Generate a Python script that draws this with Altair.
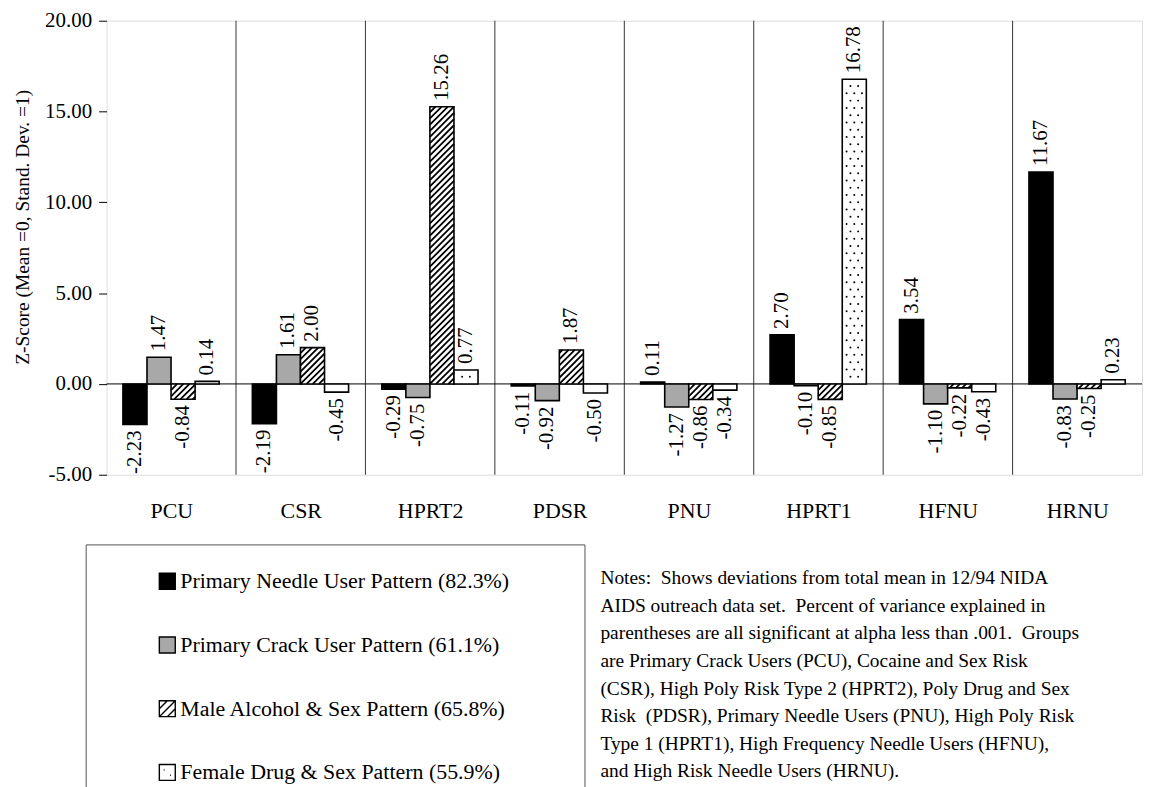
import altair as alt
import pandas as pd

# ---------------- data ----------------
groups = ["PCU", "CSR", "HPRT2", "PDSR", "PNU", "HPRT1", "HFNU", "HRNU"]
series = [
    "Primary Needle User Pattern (82.3%)",
    "Primary Crack User Pattern (61.1%)",
    "Male Alcohol & Sex Pattern (65.8%)",
    "Female Drug & Sex Pattern (55.9%)",
]
needle = [-2.23, -2.19, -0.29, -0.11, 0.11, 2.70, 3.54, 11.67]
crack = [1.47, 1.61, -0.75, -0.92, -1.27, -0.10, -1.10, -0.83]
male = [-0.84, 2.00, 15.26, 1.87, -0.86, -0.85, -0.22, -0.25]
female = [0.14, -0.45, 0.77, -0.50, -0.34, 16.78, -0.43, 0.23]
y_ticks = [-5, 0, 5, 10, 15, 20]
y_title = "Z-Score (Mean =0, Stand. Dev. =1)"
notes_lines = [
    "Notes:\u00a0 Shows deviations from total mean in 12/94 NIDA",
    "AIDS outreach data set.\u00a0 Percent of variance explained in",
    "parentheses are all significant at alpha less than .001.\u00a0 Groups",
    "are Primary Crack Users (PCU), Cocaine and Sex Risk",
    "(CSR), High Poly Risk Type 2 (HPRT2), Poly Drug and Sex",
    "Risk\u00a0 (PDSR), Primary Needle Users (PNU), High Poly Risk",
    "Type 1 (HPRT1), High Frequency Needle Users (HFNU),",
    "and High Risk Needle Users (HRNU).",
]

# ---------------- layout / style ----------------
FONT = "Liberation Serif"
GW = 5.38      # group width in bar widths
OFF = 0.68     # offset of first bar inside the group
HD = 1.324     # hatch rise across one bar width (y units)
HS = 0.34      # hatch spacing (y units)
DS = 0.40      # dot row spacing (y units)
fills = ["#000000", "#a8a8a8", "#ffffff", "#ffffff"]
strokes = ["#000000"] * 4
male_path = "M-1,-1H1V1H-1ZM-1,1L1,-1M-1,0L0,-1M0,1L1,0"
female_path = "M-1,-1H1V1H-1ZM-0.45,-0.3L-0.35,-0.3M0.35,0.35L0.45,0.35"
shapes = ["square", "square", male_path, female_path]
MINUS_FIX = "replace({}, '\u2212', '-')"

rows = []
for gi, g in enumerate(groups):
    for si, (s, vals) in enumerate(zip(series, [needle, crack, male, female])):
        x0 = gi * GW + OFF + si
        rows.append(dict(group=g, series=s, value=vals[gi], x0=x0, x1=x0 + 1, xc=x0 + 0.5))
df = pd.DataFrame(rows)
df["lo"] = df["value"].clip(upper=0)
df["hi"] = df["value"].clip(lower=0)

bounds = pd.DataFrame({"xb": [k * GW for k in range(1, len(groups))]})
centers = [gi * GW + GW / 2 for gi in range(len(groups))]
label_expr = "[" + ",".join(f"'{g}'" for g in groups) + f"][round((datum.value - {GW/2})/{GW})]"

xscale = alt.Scale(domain=[0, GW * len(groups)], nice=False, zero=False)
yscale = alt.Scale(domain=[-5, 20], nice=False, zero=False)

x_axis = alt.Axis(values=centers, labelExpr=label_expr, title=None, grid=False, ticks=False,
                  domain=False, labelFont=FONT, labelFontSize=22, labelColor="black",
                  labelPadding=26)
y_axis = alt.Axis(values=y_ticks, format=".2f", labelExpr=MINUS_FIX.format("datum.label"),
                  title=y_title, grid=False, domain=False,
                  ticks=True, tickSize=8, tickColor="black", tickWidth=1,
                  labelFont=FONT, labelFontSize=21, labelColor="black", labelPadding=7,
                  titleFont=FONT, titleFontSize=19.5, titleFontWeight="normal",
                  titleColor="black", titleX=-84, titleY=207, titleAngle=270,
                  titleAlign="center", titleBaseline="middle")

legend = alt.Legend(
    title=".", titleOrient="right", titleOpacity=0, titleFontSize=10, titlePadding=46,
    orient="none", legendX=-21, legendY=526, padding=26, symbolOffset=45,
    strokeColor="#555555", fillColor="white",
    labelFont=FONT, labelFontSize=22, labelColor="black", labelOffset=2, labelLimit=1000,
    rowPadding=42, symbolSize=256, symbolOpacity=1, symbolStrokeWidth=1.4,
)

fill_scale = alt.Scale(domain=series, range=fills)
base = alt.Chart(df)

separators = alt.Chart(bounds).mark_rule(color="#333333", strokeWidth=1).encode(
    x=alt.X("xb:Q", scale=xscale, axis=x_axis)
)
zero_line = alt.Chart(pd.DataFrame({"z": [0]})).mark_rule(color="black", strokeWidth=1).encode(
    y=alt.Y("z:Q", scale=yscale, axis=y_axis)
)

# invisible points that only carry the legend (fill + outline + custom glyph shape)
legend_carrier = base.mark_point(filled=True, opacity=0).encode(
    x=alt.X("xc:Q", scale=xscale, axis=x_axis),
    y=alt.Y("hi:Q", scale=yscale, axis=y_axis),
    fill=alt.Fill("series:N", scale=fill_scale, legend=legend),
    stroke=alt.Stroke("series:N", scale=alt.Scale(domain=series, range=strokes), legend=legend),
    shape=alt.Shape("series:N", scale=alt.Scale(domain=series, range=shapes), legend=legend),
)

bars = base.mark_bar(stroke="black", strokeWidth=1.6).encode(
    x=alt.X("x0:Q", scale=xscale, axis=x_axis),
    x2="x1:Q",
    y=alt.Y("lo:Q", scale=yscale, axis=y_axis),
    y2="hi:Q",
    fill=alt.Fill("series:N", scale=fill_scale, legend=legend),
)

hatch = (
    base.transform_filter(alt.datum.series == series[2])
    .transform_calculate(ks=f"sequence(ceil((datum.lo - {HD})/{HS}), ceil(datum.hi/{HS}))")
    .transform_flatten(["ks"])
    .transform_calculate(s=f"datum.ks * {HS}")
    .transform_calculate(ya="max(datum.s, datum.lo)")
    .transform_calculate(yb=f"min(datum.s + {HD}, datum.hi)")
    .transform_calculate(xa=f"datum.x0 + (datum.ya - datum.s)/{HD}")
    .transform_calculate(xb=f"datum.x0 + (datum.yb - datum.s)/{HD}")
    .transform_filter("datum.xb > datum.xa + 0.02")
    .mark_rule(stroke="black", strokeWidth=1.8)
    .encode(
        x=alt.X("xa:Q", scale=xscale, axis=x_axis), x2="xb:Q",
        y=alt.Y("ya:Q", scale=yscale, axis=y_axis), y2="yb:Q",
    )
)

dots = (
    base.transform_filter(alt.datum.series == series[3])
    .transform_calculate(rs=f"sequence(ceil((datum.lo + 0.12)/{DS}), floor((datum.hi - 0.12)/{DS}) + 1)")
    .transform_flatten(["rs"])
    .transform_calculate(yd=f"datum.rs * {DS}")
    .transform_calculate(cs="abs(datum.rs) % 2 == 0 ? [0.18, 0.5, 0.82] : [0.34, 0.66]")
    .transform_flatten(["cs"])
    .transform_calculate(xd="datum.x0 + datum.cs")
    .mark_circle(size=4, color="black", opacity=1)
    .encode(
        x=alt.X("xd:Q", scale=xscale, axis=x_axis),
        y=alt.Y("yd:Q", scale=yscale, axis=y_axis),
    )
)

text_common = dict(angle=270, baseline="middle", font=FONT, fontSize=21, color="black")
labelled = base.transform_calculate(lbl=MINUS_FIX.format("format(datum.value, '.2f')"))
pos_labels = labelled.transform_filter("datum.value > 0").mark_text(align="left", dx=6, **text_common).encode(
    x=alt.X("xc:Q", scale=xscale, axis=x_axis),
    y=alt.Y("hi:Q", scale=yscale, axis=y_axis),
    text="lbl:N",
)
neg_labels = labelled.transform_filter("datum.value < 0").mark_text(align="right", dx=-6, **text_common).encode(
    x=alt.X("xc:Q", scale=xscale, axis=x_axis),
    y=alt.Y("lo:Q", scale=yscale, axis=y_axis),
    text="lbl:N",
)

notes = alt.Chart(pd.DataFrame({"n": [0]})).mark_text(
    align="left", baseline="top", font=FONT, fontSize=19.5, lineHeight=27.7, color="black"
).encode(x=alt.value(496), y=alt.value(551), text=alt.value(notes_lines))

chart = (
    alt.layer(separators, zero_line, legend_carrier, bars, hatch, dots, pos_labels, neg_labels, notes)
    .properties(width=1040, height=456, padding={"left": 5, "top": 0, "right": 5, "bottom": 5})
    .configure_view(stroke="black", strokeWidth=2)
    .configure(background="white")
)

chart.save("out.html", embed_options={"renderer": "svg", "actions": False})
